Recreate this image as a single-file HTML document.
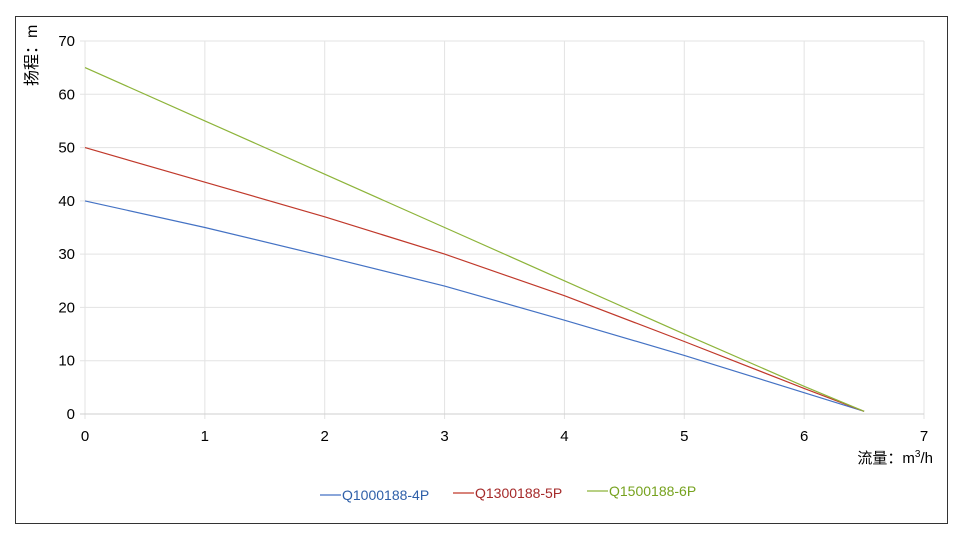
<!DOCTYPE html>
<html><head><meta charset="utf-8"><style>
html,body{margin:0;padding:0;background:#fff;width:961px;height:547px;overflow:hidden}
svg text{font-family:"Liberation Sans","Noto Sans CJK SC",sans-serif}
</style></head><body>
<svg width="961" height="547">
<rect x="15.5" y="16.5" width="932" height="507" fill="#fff" stroke="#333" stroke-width="1"/>
<g id="grid"></g><g id="ticks"></g><g id="series"></g>
<text x="37" y="86" transform="rotate(-90 37 86)" font-size="16" text-anchor="start" fill="#000">扬程：m</text>
<text x="933" y="463" font-size="15" text-anchor="end" fill="#000">流量：m<tspan dy="-6" font-size="10">3</tspan><tspan dy="6">/h</tspan></text>
<g id="legend"></g>
</svg>
<script>
const xTicks=[0,1,2,3,4,5,6,7];
const yTicks=[0,10,20,30,40,50,60,70];
const flowX=[0,1,2,3,4,5,6,6.5];
const seriesNames=["Q1000188-4P","Q1300188-5P","Q1500188-6P"];
const headA=[40,35,29.6,24,17.6,11,4,0.5];
const headB=[50,43.5,37,30,22.2,13.6,4.8,0.5];
const headC=[65,55,45,35,25,15,5.2,0.5];
const colors=["#4472c4","#c0392b","#8db43a"];
const legendColors=["#2e5fa8","#a52a2a","#76a21e"];
const NS="http://www.w3.org/2000/svg";
const X0=85,X1=924,Y0=414,Y1=41;
const sx=v=>X0+(v-0)/(7-0)*(X1-X0);
const sy=v=>Y0-(v-0)/(70-0)*(Y0-Y1);
function mk(tag,attrs,parent){const e=document.createElementNS(NS,tag);for(const k in attrs)e.setAttribute(k,attrs[k]);document.getElementById(parent).appendChild(e);return e;}
xTicks.forEach(t=>{
 const l=mk('line',{x1:sx(t),x2:sx(t),y1:Y1,y2:Y0+5,stroke:'#e3e3e3'},'grid');
 
 
 const tx=mk('text',{x:sx(t),y:441,'font-size':15,'text-anchor':'middle',fill:'#000'},'ticks');
 tx.textContent=t;
 
 
});
yTicks.forEach(t=>{
 const l=mk('line',{x1:X0-5,x2:X1,y1:sy(t),y2:sy(t),stroke:t===0?'#cfcfcf':'#e3e3e3'},'grid');
 
 
 const tx=mk('text',{x:75,y:sy(t)+5,'font-size':15,'text-anchor':'end',fill:'#000'},'ticks');
 tx.textContent=t;
 
 
});
[headA,headB,headC].forEach((arr,i)=>{
 const d=arr.map((v,j)=>(j?'L':'M')+sx(flowX[j]).toFixed(1)+','+sy(v).toFixed(1)).join(' ');
 const p=mk('path',{d:d,fill:'none',stroke:colors[i],'stroke-width':1.2},'series');
 
 
});
const legX=[320,453,587],legY=[495,493,491];
seriesNames.forEach((n,i)=>{
 const l=mk('line',{x1:legX[i],x2:legX[i]+21,y1:legY[i],y2:legY[i],stroke:colors[i],'stroke-width':1.2},'legend');
 
 
 const t=mk('text',{x:legX[i]+22,y:legY[i]+5,'font-size':14,fill:legendColors[i]},'legend');
 t.textContent=n;
 
 
});
</script>
</body></html>
